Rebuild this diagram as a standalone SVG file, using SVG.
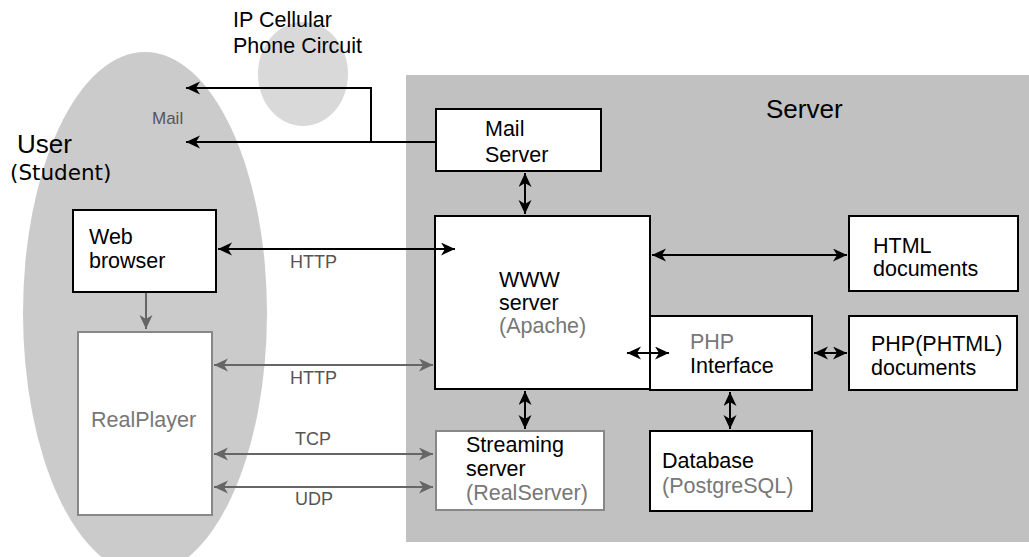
<svg xmlns="http://www.w3.org/2000/svg" width="1029" height="557" viewBox="0 0 1029 557">
<style>
text{font-family:"Liberation Sans",Arial,sans-serif;font-size:21.5px;fill:#000}
.g{fill:#777}
.lbl{font-size:18px;fill:#555}
.box{fill:#fff;stroke:#000;stroke-width:2}
.gbox{fill:#fff;stroke:#888;stroke-width:2}
.k{stroke:#000;stroke-width:2;fill:none}
.gr{stroke:#666;stroke-width:2;fill:none}
</style>
<defs>
<marker id="ak" markerUnits="userSpaceOnUse" markerWidth="16" markerHeight="14" refX="14" refY="6.5" orient="auto-start-reverse"><path d="M0,0 L14,6.5 L0,13 L4,6.5 z" fill="#000"/></marker>
<marker id="ag" markerUnits="userSpaceOnUse" markerWidth="16" markerHeight="14" refX="14" refY="6.5" orient="auto-start-reverse"><path d="M0,0 L14,6.5 L0,13 L4,6.5 z" fill="#666"/></marker>
</defs>
<g id="backgrounds">
<rect x="406" y="75" width="623" height="467" fill="#c1c1c1"/>
<ellipse cx="145" cy="313" rx="122" ry="261" fill="#cbcbcb"/>
<ellipse cx="303" cy="74" rx="45" ry="52" fill="#d9d9d9"/>
<text x="766" y="118" style="font-size:26px">Server</text>
<text x="17" y="153" style="font-size:26px">User</text>
<text x="10" y="180" style="font-family:'DejaVu Sans',sans-serif;font-size:21.5px">(Student)</text>
<text x="233" y="27">IP Cellular</text>
<text x="233" y="53">Phone Circuit</text>
<text class="lbl" x="152" y="124" style="font-size:17px">Mail</text>
</g>
<g id="mail-server">
<rect class="box" x="436" y="109" width="165" height="62"/>
<text x="485" y="136">Mail</text>
<text x="485" y="162">Server</text>
</g>
<g id="www-server">
<rect class="box" x="435" y="216" width="215" height="173"/>
<text x="499" y="287">WWW</text>
<text x="499" y="310">server</text>
<text class="g" x="499" y="333">(Apache)</text>
</g>
<g id="html-documents">
<rect class="box" x="849" y="216" width="169" height="75"/>
<text x="873" y="253">HTML</text>
<text x="873" y="276">documents</text>
</g>
<g id="php-interface">
<rect class="box" x="650" y="316" width="162" height="74"/>
<text class="g" x="690" y="349">PHP</text>
<text x="690" y="373">Interface</text>
</g>
<g id="php-documents">
<rect class="box" x="849" y="316" width="168" height="74"/>
<text x="871" y="351">PHP(PHTML)</text>
<text x="871" y="375">documents</text>
</g>
<g id="streaming-server">
<rect class="gbox" x="436" y="431" width="168" height="79"/>
<text x="466" y="452">Streaming</text>
<text x="466" y="476">server</text>
<text class="g" x="466" y="500">(RealServer)</text>
</g>
<g id="database">
<rect class="box" x="650" y="431" width="162" height="80"/>
<text x="662" y="468">Database</text>
<text class="g" x="662" y="493">(PostgreSQL)</text>
</g>
<g id="web-browser">
<rect class="box" x="73" y="210" width="143" height="82"/>
<text x="89" y="244">Web</text>
<text x="89" y="268">browser</text>
</g>
<g id="realplayer">
<rect class="gbox" x="78" y="332" width="134" height="183"/>
<text class="g" x="91" y="427">RealPlayer</text>
</g>
<g id="connectors">
<line class="k" x1="436" y1="142" x2="186" y2="142" marker-end="url(#ak)"/>
<polyline class="k" points="371,142 371,88 186,88" marker-end="url(#ak)"/>
<line class="k" x1="218" y1="249" x2="455" y2="249" marker-start="url(#ak)" marker-end="url(#ak)"/>
<text class="lbl" x="290" y="268">HTTP</text>
<line class="gr" x1="146" y1="293" x2="146" y2="329" marker-end="url(#ag)"/>
<line class="gr" x1="214" y1="365" x2="433" y2="365" marker-start="url(#ag)" marker-end="url(#ag)"/>
<text class="lbl" x="290" y="384">HTTP</text>
<line class="gr" x1="214" y1="454" x2="433" y2="454" marker-start="url(#ag)" marker-end="url(#ag)"/>
<text class="lbl" x="295" y="445">TCP</text>
<line class="gr" x1="214" y1="487" x2="433" y2="487" marker-start="url(#ag)" marker-end="url(#ag)"/>
<text class="lbl" x="295" y="505">UDP</text>
<line class="k" x1="525" y1="173" x2="525" y2="214" marker-start="url(#ak)" marker-end="url(#ak)"/>
<line class="k" x1="652" y1="255" x2="847" y2="255" marker-start="url(#ak)" marker-end="url(#ak)"/>
<line class="k" x1="627" y1="353" x2="669" y2="353" marker-start="url(#ak)" marker-end="url(#ak)"/>
<line class="k" x1="814" y1="353" x2="847" y2="353" marker-start="url(#ak)" marker-end="url(#ak)"/>
<line class="k" x1="525" y1="391" x2="525" y2="429" marker-start="url(#ak)" marker-end="url(#ak)"/>
<line class="k" x1="730" y1="392" x2="730" y2="429" marker-start="url(#ak)" marker-end="url(#ak)"/>
</g>
</svg>
